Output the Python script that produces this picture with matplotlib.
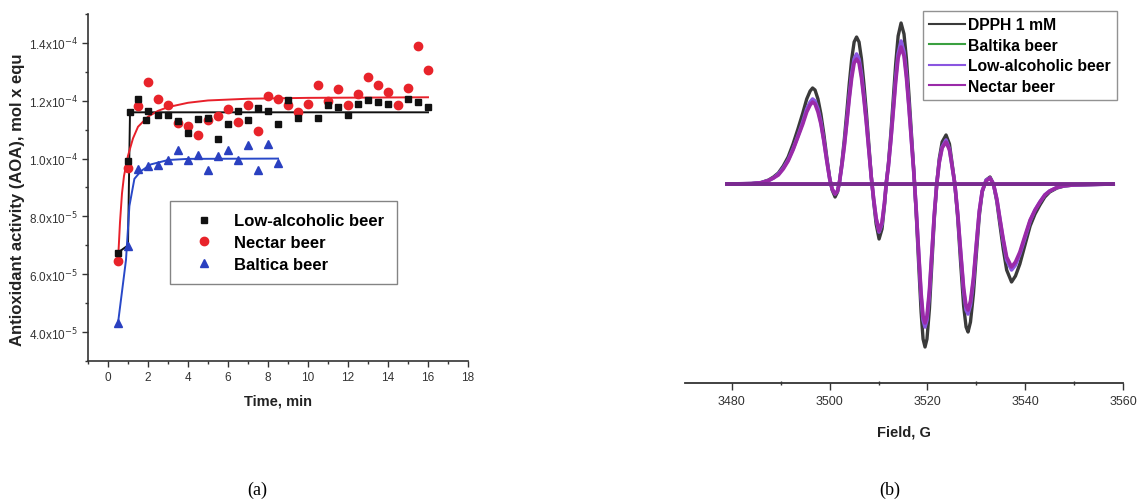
import numpy as np
import matplotlib
matplotlib.use("Agg")
import matplotlib.pyplot as plt
from matplotlib.ticker import MultipleLocator, FixedLocator

plt.rcParams['font.family'] = ['Liberation Sans', 'DejaVu Sans']

# (a) antioxidant activity vs time, values in units of 1e-4 mol x equ
low_t = [0.5, 1.0, 1.1, 1.5, 1.9, 2.0, 2.5, 3.0, 3.5, 4.0, 4.5, 5.0, 5.5, 6.0, 6.5, 7.0, 7.5, 8.0,
         8.5, 9.0, 9.5, 10.5, 11.0, 11.5, 12.0, 12.5, 13.0, 13.5, 14.0, 15.0, 15.5, 16.0]
low_v = [0.675, 0.992, 1.160, 1.206, 1.134, 1.165, 1.151, 1.151, 1.130, 1.088, 1.136, 1.140, 1.067,
         1.121, 1.165, 1.134, 1.175, 1.163, 1.121, 1.202, 1.142, 1.142, 1.185, 1.180, 1.151, 1.190,
         1.202, 1.197, 1.190, 1.206, 1.194, 1.179]
nectar_t = [0.5, 1.0, 1.5, 2.0, 2.5, 3.0, 3.5, 4.0, 4.5, 5.0, 5.5, 6.0, 6.5, 7.0, 7.5, 8.0, 8.5, 9.0,
            9.5, 10.0, 10.5, 11.0, 11.5, 12.0, 12.5, 13.0, 13.5, 14.0, 14.5, 15.0, 15.5, 16.0]
nectar_v = [0.645, 0.969, 1.183, 1.266, 1.206, 1.185, 1.123, 1.111, 1.081, 1.134, 1.148, 1.173,
            1.127, 1.185, 1.096, 1.217, 1.206, 1.185, 1.162, 1.190, 1.254, 1.200, 1.240, 1.185,
            1.225, 1.283, 1.254, 1.229, 1.185, 1.243, 1.391, 1.306]
baltica_t = [0.5, 1.0, 1.5, 2.0, 2.5, 3.0, 3.5, 4.0, 4.5, 5.0, 5.5, 6.0, 6.5, 7.0, 7.5, 8.0, 8.5]
baltica_v = [0.431, 0.697, 0.963, 0.975, 0.978, 0.995, 1.029, 0.995, 1.012, 0.960, 1.009, 1.029,
             0.995, 1.046, 0.960, 1.049, 0.986]

# fitted curves
low_fit_t = [0.5, 1.0, 1.1, 16.0]
low_fit_v = [0.675, 0.70, 1.16, 1.16]
nectar_fit_t = [0.5, 0.6, 0.7, 0.8, 1.0, 1.25, 1.5, 2.0, 2.5, 3.0, 4.0, 5.0, 7.0, 10.0, 16.0]
nectar_fit_v = [0.645, 0.78, 0.88, 0.94, 1.01, 1.07, 1.11, 1.145, 1.165, 1.178, 1.193, 1.201,
                1.207, 1.210, 1.212]
baltica_fit_t = [0.5, 0.7, 0.9, 1.07, 1.32, 1.65, 2.15, 3.0, 4.0, 8.5]
baltica_fit_v = [0.431, 0.54, 0.65, 0.836, 0.93, 0.957, 0.98, 0.995, 0.999, 1.0]

# (b) EPR spectra, arbitrary intensity units
field = [3479.0, 3484.0, 3486.0, 3487.5, 3488.5, 3489.5, 3490.5, 3491.5, 3492.5, 3493.5,
         3494.5, 3495.3, 3496.0, 3496.5, 3497.0, 3497.6, 3498.2, 3498.8, 3499.4, 3500.0,
         3500.5, 3501.1, 3501.6, 3502.0, 3502.5, 3503.0, 3503.5, 3504.0, 3504.5, 3505.0,
         3505.5, 3506.0, 3506.5, 3507.0, 3507.5, 3508.0, 3508.5, 3509.0, 3509.5, 3510.1,
         3510.7, 3511.2, 3511.6, 3512.0, 3512.5, 3513.0, 3513.5, 3514.0, 3514.6, 3515.2,
         3515.7, 3516.2, 3516.7, 3517.2, 3517.7, 3518.2, 3518.7, 3519.1, 3519.5, 3519.9,
         3520.4, 3520.9, 3521.4, 3521.9, 3522.4, 3523.0, 3523.8, 3524.5, 3525.0, 3525.6,
         3526.2, 3526.8, 3527.4, 3527.9, 3528.3, 3528.8, 3529.4, 3530.0, 3530.6, 3531.2,
         3532.0, 3532.8, 3533.5, 3534.2, 3534.8, 3535.5, 3536.2, 3537.2, 3538.0, 3538.9,
         3540.0, 3541.0, 3542.0, 3543.0, 3544.0, 3545.0, 3546.5, 3548.0, 3550.0, 3558.0]
dpph = [0, 0.5, 1.5, 4, 7, 11, 18, 27, 40, 55,
        71, 85, 93, 96, 94, 85, 70, 50, 27, 6,
        -6, -13, -8, 2, 22, 45, 72, 100, 125, 142,
        147, 142, 125, 100, 72, 40, 8, -18, -40, -55,
        -45, -22, 2, 20, 50, 85, 120, 148, 161, 150,
        125, 90, 52, 14, -30, -80, -128, -155, -163, -155,
        -125, -80, -35, 0, 25, 42, 49, 40, 22, 0,
        -35, -80, -122, -143, -148, -138, -110, -70, -32, -8,
        4, 7, 0, -18, -40, -65, -86, -98, -92, -80,
        -60, -42, -30, -21, -13, -8, -4, -2, -1, 0]
low_alc = [0, 0.4, 1.3, 3.5, 6, 10, 16, 24, 35, 48,
           62, 75, 82, 85, 83, 75, 62, 44, 24, 5,
           -5, -10, -7, 2, 19, 40, 63, 88, 110, 125,
           130, 125, 110, 88, 63, 35, 7, -16, -35, -48,
           -40, -19, 2, 18, 44, 75, 106, 130, 143, 132,
           110, 79, 46, 12, -26, -70, -113, -136, -143, -136,
           -110, -70, -31, 0, 22, 37, 44, 35, 19, 0,
           -31, -70, -107, -126, -130, -121, -97, -62, -28, -7,
           4, 6, 0, -16, -35, -57, -76, -86, -81, -70,
           -53, -37, -26, -18, -11, -7, -3.5, -1.8, -0.9, 0]
nectar = [0, 0.4, 1.3, 3.4, 6, 9, 15, 23, 34, 47,
          60, 72, 79, 82, 80, 72, 60, 43, 23, 5,
          -5, -10, -7, 2, 19, 38, 61, 85, 106, 121,
          125, 121, 106, 85, 61, 34, 7, -15, -34, -47,
          -38, -19, 2, 17, 43, 72, 102, 126, 137, 128,
          106, 77, 44, 12, -26, -68, -109, -132, -139, -132,
          -106, -68, -30, 0, 21, 36, 42, 34, 19, 0,
          -30, -68, -104, -122, -126, -117, -94, -60, -27, -7,
          3, 6, 0, -15, -34, -55, -73, -83, -78, -68,
          -51, -36, -26, -18, -11, -7, -3.4, -1.7, -0.9, 0]
baltika_f = [3479.0, 3558.0]
baltika = [0, 0]

fig = plt.figure(figsize=(11.39, 5.02), dpi=100)
W, H = 1139, 502

def px_axes(x0, y0, x1, y1):
    return fig.add_axes([x0 / W, 1 - y1 / H, (x1 - x0) / W, (y1 - y0) / H])

axc = '#333333'

# ---- panel (a)
ax = px_axes(88, 15, 468, 362)
sc = 1e-4
ax.plot(low_fit_t, np.array(low_fit_v) * sc, color='#111111', lw=1.4, zorder=2)
ax.plot(nectar_fit_t, np.array(nectar_fit_v) * sc, color='#e8202a', lw=1.4, zorder=2)
ax.plot(baltica_fit_t, np.array(baltica_fit_v) * sc, color='#2848c8', lw=1.4, zorder=2)
ax.plot(low_t, np.array(low_v) * sc, 's', color='#111111', ms=5, ls='none',
        label='Low-alcoholic beer', zorder=4)
ax.plot(nectar_t, np.array(nectar_v) * sc, 'o', color='#e8232a', ms=6, ls='none',
        label='Nectar beer', zorder=3)
ax.plot(baltica_t, np.array(baltica_v) * sc, '^', color='#2a40c0', ms=6, ls='none',
        label='Baltica beer', zorder=3)
ax.set_xlim(-1, 18)
ax.set_ylim(3e-5, 1.5e-4)
for s in ['top', 'right']:
    ax.spines[s].set_visible(False)
for s in ['left', 'bottom']:
    ax.spines[s].set_color(axc)
    ax.spines[s].set_linewidth(1.2)
ax.xaxis.set_major_locator(MultipleLocator(2))
ax.xaxis.set_minor_locator(MultipleLocator(1))
yt = [4e-5, 6e-5, 8e-5, 1.0e-4, 1.2e-4, 1.4e-4]
ax.yaxis.set_major_locator(FixedLocator(yt))
ax.yaxis.set_minor_locator(FixedLocator([3e-5, 5e-5, 7e-5, 9e-5, 1.1e-4, 1.3e-4, 1.5e-4]))
ax.set_yticklabels(['4.0x10$^{-5}$', '6.0x10$^{-5}$', '8.0x10$^{-5}$',
                    '1.0x10$^{-4}$', '1.2x10$^{-4}$', '1.4x10$^{-4}$'])
ax.tick_params(which='major', direction='out', length=4, width=1, colors=axc, labelsize=8.5)
ax.tick_params(axis='x', which='major', labelsize=8.5)
ax.tick_params(which='minor', direction='out', length=2.5, width=1, colors=axc)
ax.set_xlabel('Time, min', fontsize=10.5, fontweight='bold', color='#222222', labelpad=7)
fig.text(18 / W, 1 - 200 / H, 'Antioxidant activity (AOA), mol x equ', rotation=90,
         fontsize=12, fontweight='bold', color='#222222', ha='center', va='center')
leg = ax.legend(loc='upper left', bbox_to_anchor=(170 / W, 1 - 202 / H),
                bbox_transform=fig.transFigure, borderaxespad=0, fancybox=False,
                edgecolor='#666666', numpoints=1, handlelength=2.6, handletextpad=0.5,
                borderpad=0.75, labelspacing=0.4, prop={'size': 12, 'weight': 'bold'})
leg.get_frame().set_linewidth(1.0)

# ---- panel (b)
bx = px_axes(685, 10, 1123, 384)
bx.plot(baltika_f, baltika, color='#3aa040', lw=2, label='Baltika beer', zorder=1)
bx.plot(field, dpph, color='#3a3a3a', lw=2.4, label='DPPH 1 mM', zorder=2)
bx.plot(field, low_alc, color='#8a55e0', lw=2.6, label='Low-alcoholic beer', zorder=3)
bx.plot(field, nectar, color='#9a2aa8', lw=2.6, label='Nectar beer', zorder=4)
bx.plot(baltika_f, baltika, color='#7a2a90', lw=2.8, zorder=5)
bx.set_xlim(3470.4, 3560)
bx.set_ylim(-199, 175)
for s in ['top', 'right', 'left']:
    bx.spines[s].set_visible(False)
bx.spines['bottom'].set_color(axc)
bx.spines['bottom'].set_linewidth(1.3)
bx.set_yticks([])
bx.xaxis.set_major_locator(FixedLocator([3480, 3500, 3520, 3540, 3560]))
bx.xaxis.set_minor_locator(FixedLocator([3490, 3510, 3530, 3550]))
bx.tick_params(which='major', direction='out', length=5, width=1, colors=axc, labelsize=9)
bx.tick_params(which='minor', direction='inout', length=3, width=1, colors=axc)
bx.set_xlabel('Field, G', fontsize=10.5, fontweight='bold', color='#222222', labelpad=13)
h, l = bx.get_legend_handles_labels()
order = [1, 0, 2, 3]
leg2 = bx.legend([h[i] for i in order], [l[i] for i in order], loc='upper right',
                 bbox_to_anchor=(1117 / W, 1 - 12 / H), bbox_transform=fig.transFigure,
                 borderaxespad=0, fancybox=False, edgecolor='#777777', handlelength=2.3,
                 handletextpad=0.2, borderpad=0.4, labelspacing=0.35,
                 prop={'size': 11.3, 'weight': 'bold'})
leg2.get_frame().set_linewidth(1.0)
for line in leg2.get_lines():
    line.set_linewidth(1.5)

fig.text(257 / W, 1 - 490 / H, '(a)', family=['Liberation Serif', 'DejaVu Serif'],
         fontsize=13, ha='center', va='center')
fig.text(890 / W, 1 - 490 / H, '(b)', family=['Liberation Serif', 'DejaVu Serif'],
         fontsize=13, ha='center', va='center')

fig.savefig('out.png', dpi=100)
